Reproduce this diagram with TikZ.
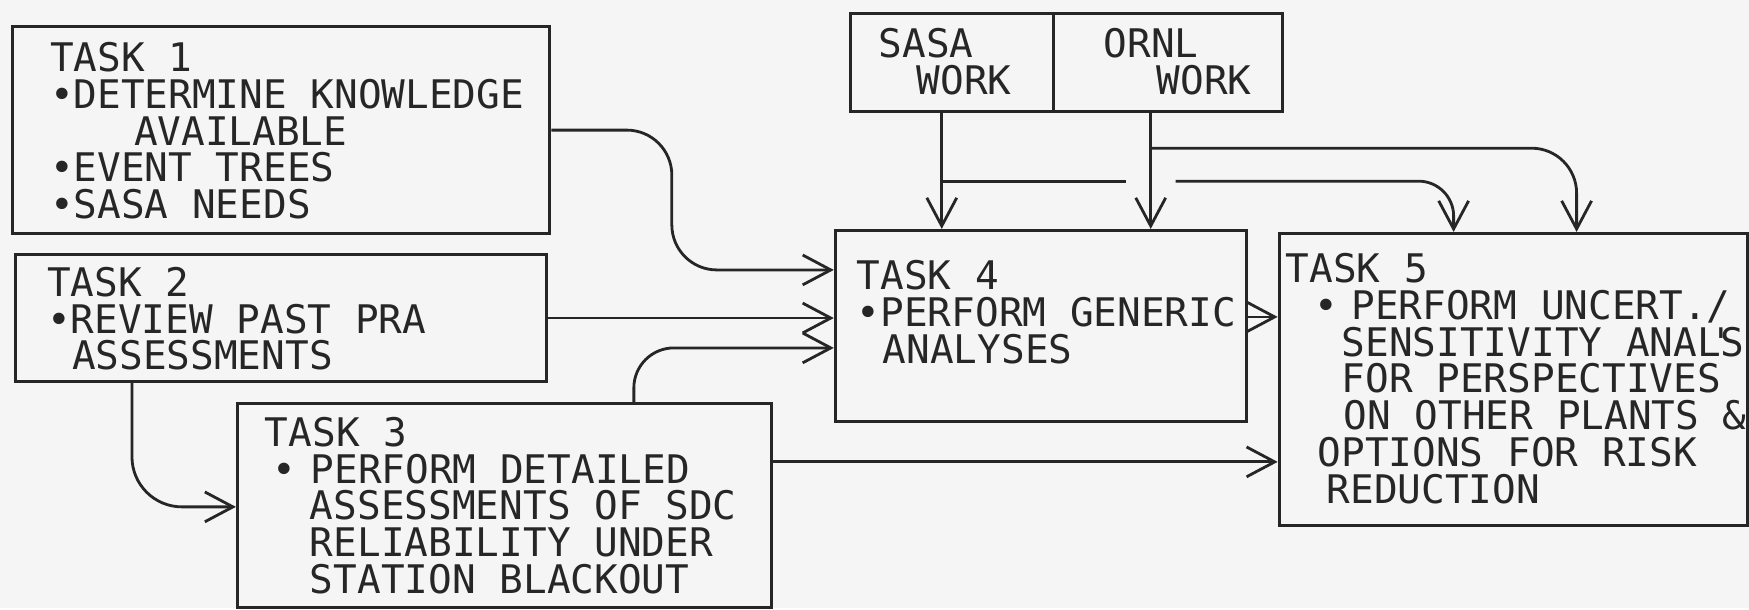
\documentclass[tikz,border=0pt]{standalone}
\usepackage{fontspec}
\newfontfamily\lettering{DejaVu Sans Mono}
\usepackage{tikz}
\usetikzlibrary{calc, positioning, arrows.meta}
\tikzset{
  taskbox/.style={draw=black!85, line width=0.9pt, anchor=north west, inner sep=0pt},
  tasktext/.style={align=left, inner sep=0pt, outer sep=0pt, text=black!85,
    font=\lettering\fontsize{11.2pt}{10.5pt}\selectfont},
  conn/.style={->, draw=black!85, line width=0.8pt, rounded corners=0.45cm}
}

\begin{document}
\begin{tikzpicture}[x=0.01cm, y=-0.01cm, >={Straight Barb[length=8pt,width=8.5pt]}]
  \fill[black!4] (0,0) rectangle (1749,608);
  % boxes
  \node[taskbox, minimum width=5.37cm, minimum height=2.07cm] (t1) at (11,25) {};
  \node[taskbox, minimum width=5.31cm, minimum height=1.27cm] (t2) at (14,253) {};
  \node[taskbox, minimum width=5.34cm, minimum height=2.04cm] (t3) at (236,402) {};
  \node[taskbox, minimum width=4.11cm, minimum height=1.91cm] (t4) at (834,229) {};
  \node[taskbox, minimum width=4.68cm, minimum height=2.92cm] (t5) at (1278,232) {};
  \node[taskbox, minimum width=2.03cm, minimum height=0.98cm] (sasa) at (849,12) {};
  \node[taskbox, minimum width=2.29cm, minimum height=0.98cm] (ornl) at (1052,12) {};
  % texts
  \node[tasktext, below right=0.17cm and 0.39cm of t1.north west] (t1txt)
    {TASK 1\\•DETERMINE KNOWLEDGE\\\hspace*{0.84cm}AVAILABLE\\•EVENT TREES\\•SASA NEEDS};
  \node[tasktext, below right=0.14cm and 0.33cm of t2.north west] (t2txt)
    {TASK 2\\•REVIEW PAST PRA\\\hspace*{0.25cm}ASSESSMENTS};
  \node[tasktext, below right=0.15cm and 0.29cm of t3.north west] (t3txt)
    {TASK 3\\\hspace*{0.08cm}•\hspace*{0.14cm}PERFORM DETAILED\\
     \hspace*{0.45cm}ASSESSMENTS OF SDC\\\hspace*{0.45cm}RELIABILITY UNDER\\
     \hspace*{0.45cm}STATION BLACKOUT};
  \node[tasktext, below right=0.31cm and 0.23cm of t4.north west] (t4txt)
    {TASK 4\\•PERFORM GENERIC\\\hspace*{0.26cm}ANALYSES};
  \node[tasktext, below right=0.21cm and 0.08cm of t5.north west] (t5txt)
    {TASK 5\\\hspace*{0.29cm}•\hspace*{0.13cm}PERFORM UNCERT./\\
     \hspace*{0.56cm}SENSITIVITY ANAL\makebox[0pt]{'}S\\
     \hspace*{0.56cm}FOR PERSPECTIVES\\\hspace*{0.58cm}ON OTHER PLANTS \&\\
     \hspace*{0.32cm}OPTIONS FOR RISK\\\hspace*{0.41cm}REDUCTION};
  \node[tasktext, below right=0.16cm and 0.30cm of sasa.north west] (sasatxt)
    {SASA\\\hspace*{0.38cm}WORK};
  \node[tasktext, below right=0.16cm and 0.52cm of ornl.north west] (ornltxt)
    {ORNL\\\hspace*{0.53cm}WORK};
  % connection points
  \coordinate (t1in) at ($(t4.north west)+(0,41)$);
  \coordinate (t3in) at ($(t4.north west)+(0,119)$);
  \coordinate (t3out) at ($(t3.north west)+(398,0)$);
  \coordinate (t2out) at ($(t2.south west)+(118,0)$);
  \coordinate (t2in) at ($(t3.north west)+(0,105)$);
  \coordinate (t4out) at ($(t4.north east)+(0,88)$);
  \coordinate (t3right) at ($(t3.north east)+(0,60)$);
  \coordinate (sasaout) at ($(sasa.south west)+(93,0)$);
  \coordinate (ornlout) at ($(ornl.south west)+(99,0)$);
  \coordinate (sasajn) at ($(sasaout)+(0,68)$);
  \coordinate (ornljn) at ($(ornlout)+(0,35)$);
  \coordinate (gapl) at ($(ornljn |- sasajn)+(-25,0)$);
  \coordinate (gapr) at ($(ornljn |- sasajn)+(25,0)$);
  \coordinate (t5ina) at ($(t5.north west)+(176,0)$);
  \coordinate (t5inb) at ($(t5.north west)+(299,0)$);
  % connectors
  \draw[conn] (t1.east) -| ($(t1in)+(-162,0)$) -- (t1in);
  \draw[conn] (t2.east) -- (t2.east -| t4.west);
  \draw[conn, rounded corners=0.4cm] (t3out) |- (t3in);
  \draw[conn, rounded corners=0.5cm] (t2out) |- (t2in);
  \draw[conn] (sasaout) -- (sasaout |- t4.north);
  \draw[conn] (ornlout) -- (ornlout |- t4.north);
  \draw[conn, -] (sasajn) -- (gapl);
  \draw[conn, rounded corners=0.35cm] (gapr) -| (t5ina);
  \draw[conn] (ornljn) -| (t5inb);
  \draw[conn] (t4out) -- (t4out -| t5.west);
  \draw[conn] (t3right) -- (t3right -| t5.west);
\end{tikzpicture}
\end{document}
